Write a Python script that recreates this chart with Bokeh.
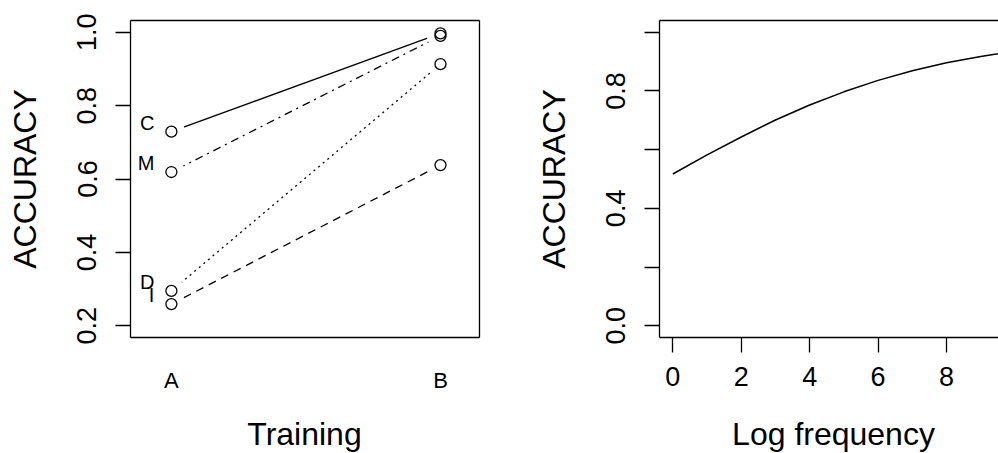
from bokeh.plotting import figure
from bokeh.layouts import row, column
from bokeh.models import ColumnDataSource, FixedTicker, LinearAxis, Range1d, Div, Spacer
from bokeh.core.properties import value
from bokeh.embed import file_html
from bokeh.resources import INLINE

# ---------------- data ----------------
# Left panel: accuracy by training condition (A, B) for four groups
training_levels = ["A", "B"]
groups = ["C", "M", "D", "I"]
acc_A = [0.729, 0.619, 0.295, 0.259]
acc_B = [0.997, 0.990, 0.913, 0.638]
group_dash = ["solid", "2 5 8 5", "2 4", "8 6"]
left_yticks = [0.2, 0.4, 0.6, 0.8, 1.0]
left_ytick_labels = ["0.2", "0.4", "0.6", "0.8", "1.0"]

# Right panel: fitted accuracy vs log frequency
log_freq = [0, 1, 2, 3, 4, 5, 6, 7, 8, 9, 9.75]
acc_curve = [0.517, 0.582, 0.643, 0.701, 0.752, 0.797, 0.836, 0.869, 0.896, 0.917, 0.931]
right_xticks = [0, 2, 4, 6, 8]
right_yticks = [0.0, 0.2, 0.4, 0.6, 0.8, 1.0]
right_ytick_labels = ["0.0", "", "0.4", "", "0.8", ""]

x_titles = ["Training", "Log frequency"]

FONT = "Liberation Sans"
H = 418          # figure height; the x-axis titles sit in a strip below
TITLE_H = 35
TOP = 20
FRAME_H = 317
LW = 1.3


def base_style(p):
    p.grid.visible = False
    p.outline_line_color = None
    p.background_fill_color = "white"
    p.border_fill_color = "white"


def style_axis(ax, label_size="27px"):
    ax.axis_line_color = "black"
    ax.axis_line_width = LW
    ax.major_tick_line_color = "black"
    ax.major_tick_line_width = LW
    ax.major_tick_in = 0
    ax.major_tick_out = 15
    ax.minor_tick_line_color = None
    ax.major_label_text_font = FONT
    ax.major_label_text_font_size = label_size
    ax.major_label_text_color = "black"
    ax.axis_label_text_font = FONT
    ax.axis_label_text_font_size = "32px"
    ax.axis_label_text_font_style = "normal"
    ax.axis_label_text_color = "black"


def border_axis(p, side):
    ax = LinearAxis(ticker=FixedTicker(ticks=[]))
    ax.axis_line_color = "black"
    ax.axis_line_width = LW
    ax.major_tick_line_color = None
    ax.minor_tick_line_color = None
    ax.major_tick_in = 0
    ax.major_tick_out = 0
    ax.major_label_standoff = 0
    ax.major_label_text_font_size = "0px"
    p.add_layout(ax, side)


def title_div(text, width):
    return Div(text=text, width=width, height=TITLE_H, margin=(0, 0, 0, 0),
               styles={"font-family": FONT, "font-size": "32px",
                       "line-height": "32px", "text-align": "center",
                       "color": "black", "white-space": "nowrap"})


# ---------------- left panel ----------------
xpos = [i + 1 for i in range(len(training_levels))]

p1 = figure(width=481, height=H, output_backend="svg", toolbar_location=None,
            x_range=Range1d(0.848, 2.145), y_range=Range1d(0.168, 1.032),
            min_border_left=130, min_border_right=2, min_border_top=TOP,
            min_border_bottom=H - TOP - FRAME_H)
base_style(p1)

for a, b, dash in zip(acc_A, acc_B, group_dash):
    p1.line(x=xpos, y=[a, b], line_color="black", line_width=LW, line_dash=dash)

pts = ColumnDataSource(dict(
    x=[xpos[0]] * len(groups) + [xpos[1]] * len(groups),
    y=acc_A + acc_B,
))
# gaps around the points (as in R type="b")
p1.scatter("x", "y", source=pts, size=27, fill_color="white", line_color=None)
p1.scatter("x", "y", source=pts, size=11, fill_color=None,
           line_color="black", line_width=LW)

lab = ColumnDataSource(dict(x=[xpos[0]] * len(groups), y=acc_A, text=groups))
p1.text("x", "y", text="text", source=lab, text_font=value(FONT),
        text_font_size="20px", text_align="right", text_baseline="middle",
        x_offset=-17, y_offset=-9, text_color="black")

style_axis(p1.xaxis[0], "22px")
p1.xaxis.ticker = FixedTicker(ticks=xpos)
p1.xaxis.major_label_overrides = {x: t for x, t in zip(xpos, training_levels)}
p1.xaxis.major_tick_line_color = None
p1.xaxis.major_tick_out = 0
p1.xaxis.major_label_standoff = 30

style_axis(p1.yaxis[0])
p1.yaxis.ticker = FixedTicker(ticks=left_yticks)
p1.yaxis.major_label_overrides = {v: t for v, t in zip(left_yticks, left_ytick_labels)}
p1.yaxis.major_label_orientation = "vertical"
p1.yaxis.major_label_standoff = 19
p1.yaxis.axis_label = "ACCURACY"
p1.yaxis.axis_label_standoff = 32

border_axis(p1, "above")
border_axis(p1, "right")

# ---------------- right panel ----------------
p2 = figure(width=517, height=H, output_backend="svg", toolbar_location=None,
            x_range=Range1d(-0.39, 9.52), y_range=Range1d(-0.04, 1.04),
            min_border_left=178, min_border_right=0, min_border_top=TOP,
            min_border_bottom=H - TOP - FRAME_H)
base_style(p2)

p2.line(x=log_freq, y=acc_curve, line_color="black", line_width=1.5)

style_axis(p2.xaxis[0])
p2.xaxis.ticker = FixedTicker(ticks=right_xticks)
p2.xaxis.major_label_standoff = 14

style_axis(p2.yaxis[0])
p2.yaxis.ticker = FixedTicker(ticks=right_yticks)
p2.yaxis.major_label_overrides = {v: t for v, t in zip(right_yticks, right_ytick_labels)}
p2.yaxis.major_label_orientation = "vertical"
p2.yaxis.major_label_standoff = 19
p2.yaxis.axis_label = "ACCURACY"
p2.yaxis.axis_label_standoff = 32

border_axis(p2, "above")

# ---------------- x-axis titles strip ----------------
titles = row(Spacer(width=128, height=TITLE_H, margin=(0, 0, 0, 0)),
             title_div(x_titles[0], 353),
             Spacer(width=188, height=TITLE_H, margin=(0, 0, 0, 0)),
             title_div(x_titles[1], 329))

layout = column(row(p1, p2), titles)
open("out.html", "w").write(file_html(layout, INLINE))
